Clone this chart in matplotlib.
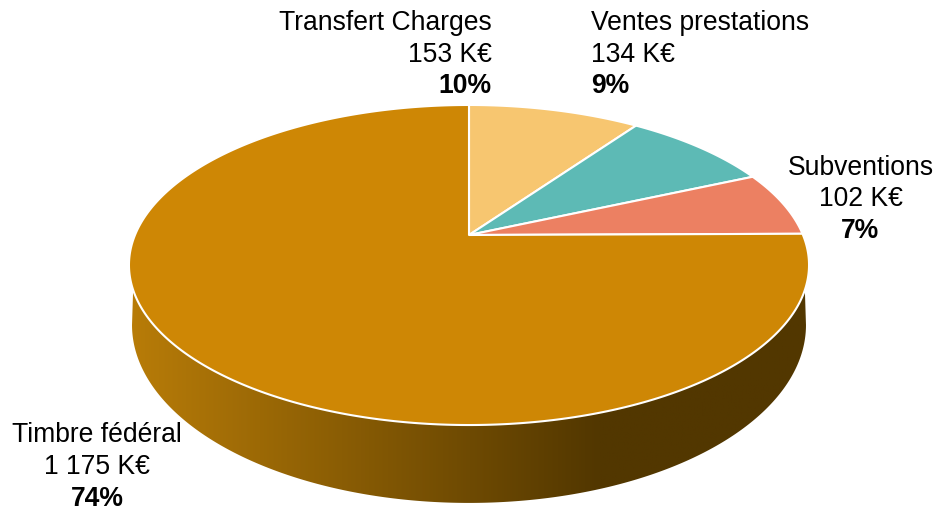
import matplotlib
matplotlib.use("Agg")
import matplotlib.pyplot as plt
from matplotlib.colors import LinearSegmentedColormap
from matplotlib.patches import Polygon
import numpy as np

plt.rcParams['font.family'] = ['Liberation Sans', 'DejaVu Sans']

categories = ["Transfert Charges", "Ventes prestations", "Subventions", "Timbre fédéral"]
values = [153, 134, 102, 1175]
value_labels = ["153 K€", "134 K€", "102 K€", "1 175 K€"]
percent_labels = ["10%", "9%", "7%", "74%"]

colors = ["#F7C670", "#5DBAB5", "#EC8062", "#CE8705"]
label_x = [492, 591, 860.5, 97]
label_y = [23, 23, 168, 435.5]
label_align = ["right", "left", "center", "center"]
line_step = 31.5
font_px = 19.1

# perspective of the pie: far half is squeezed compared to the near half
persp = 0.1875


def project(angle, cx, cy, rx, ry):
    # angle in degrees, clockwise from the top
    a = np.radians(angle)
    den = 1 + persp * np.cos(a)
    return cx + rx * np.sin(a) / den, cy - ry * np.cos(a) / den


def arc_top(start, stop):
    a = np.linspace(start, stop, 400)
    return project(a, 469, 235, 334, 154.4)


def arc_bottom(start, stop):
    a = np.linspace(start, stop, 400)
    return project(a, 469, 291.6, 331, 171.7)


fig = plt.figure(figsize=(9.36, 5.08), dpi=100)
ax = fig.add_axes([0, 0, 1, 1])

# side of the pie, gradient clipped to the outline
tx, ty = arc_top(109.5, 250.5)
bx, by = arc_bottom(100.8, 259.2)
side_x = np.concatenate([[tx[0]], bx, [tx[-1]]])
side_y = np.concatenate([[ty[0]], by, [ty[-1]]])
outline = Polygon(np.column_stack([side_x, side_y]), closed=True, facecolor='none', edgecolor='none')
ax.add_patch(outline)
side_cmap = LinearSegmentedColormap.from_list(
    "side", [(0, "#B87C08"), (0.69, "#523700"), (1, "#523700")])
grad = np.linspace(0, 1, 256).reshape(1, -1)
im = ax.imshow(grad, cmap=side_cmap, extent=(130, 810, 510, 260), aspect='auto', zorder=1)
im.set_clip_path(outline)

# top face
shares = np.array(values) / sum(values) * 360
stops = np.cumsum(shares)
starts = stops - shares
for i in range(len(values)):
    x, y = arc_top(starts[i], stops[i])
    pts = np.column_stack([np.r_[469, x], np.r_[235, y]])
    ax.add_patch(Polygon(pts, closed=True, facecolor=colors[i], edgecolor='white',
                         linewidth=1.5, joinstyle='round', zorder=2))

for i in range(len(categories)):
    ax.text(label_x[i], label_y[i], categories[i], ha=label_align[i], va='center', fontsize=font_px, color='black')
    ax.text(label_x[i], label_y[i] + line_step, value_labels[i], ha=label_align[i], va='center', fontsize=font_px, color='black')
    ax.text(label_x[i], label_y[i] + 2 * line_step, percent_labels[i], ha=label_align[i], va='center', fontsize=font_px, fontweight='bold', color='black')

ax.set_xlim(0, 936)
ax.set_ylim(508, 0)
ax.axis('off')

fig.savefig("out.png", dpi=100)
